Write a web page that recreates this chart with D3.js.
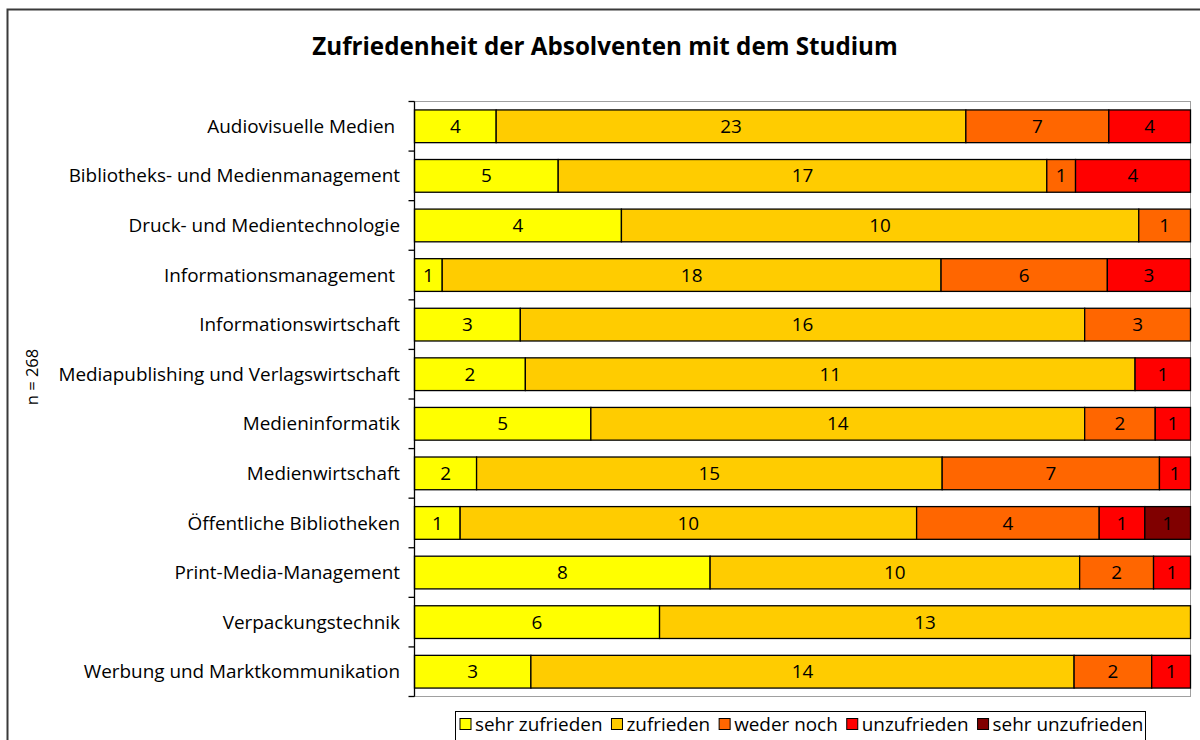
<!DOCTYPE html>
<html><head><meta charset="utf-8">
<script src="https://cdn.jsdelivr.net/npm/d3@7"></script>
<style>
html,body{margin:0;padding:0;background:#fff;}
svg{display:block;}
text{font-family:"Open Sans","Noto Sans",sans-serif;}
</style></head>
<body>
<svg id="chart" width="1200" height="740"></svg>
<script>
const title = "Zufriedenheit der Absolventen mit dem Studium";
const categories = [
  "Audiovisuelle Medien ",
  "Bibliotheks- und Medienmanagement",
  "Druck- und Medientechnologie",
  "Informationsmanagement ",
  "Informationswirtschaft",
  "Mediapublishing und Verlagswirtschaft",
  "Medieninformatik",
  "Medienwirtschaft",
  "Öffentliche Bibliotheken",
  "Print-Media-Management",
  "Verpackungstechnik",
  "Werbung und Marktkommunikation"
];
const seriesNames = ["sehr zufrieden","zufrieden","weder noch","unzufrieden","sehr unzufrieden"];
const seriesColors = ["#FFFF00","#FFCC00","#FF6600","#FF0000","#800000"];
const sehrZufrieden   = [4,5,4,1,3,2,5,2,1,8,6,3];
const zufrieden       = [23,17,10,18,16,11,14,15,10,10,13,14];
const wederNoch       = [7,1,1,6,3,0,2,7,4,2,0,2];
const unzufrieden     = [4,4,0,3,0,1,1,1,1,1,0,1];
const sehrUnzufrieden = [0,0,0,0,0,0,0,0,1,0,0,0];
const nLabel = "n = 268";

(function(){
const series = [sehrZufrieden, zufrieden, wederNoch, unzufrieden, sehrUnzufrieden];
const rows = categories.map((c,i)=>{
  const o = {cat:c};
  seriesNames.forEach((s,j)=>o[s]=series[j][i]);
  o.total = d3.sum(series, s=>s[i]);
  return o;
});
const normalized = rows.map(r=>{
  const o={cat:r.cat};
  seriesNames.forEach(s=>o[s]=r[s]/r.total);
  return o;
});
const stack = d3.stack().keys(seriesNames)(normalized);

const svg = d3.select("#chart");
const pL=414.5, pR=1190.5, pT=101.5, pB=696.5;
const FS = 18.9;

svg.append("rect").attr("x",7.5).attr("y",9.5).attr("width",1300).attr("height",800)
  .attr("fill","none").attr("stroke","#3a3a3a").attr("stroke-width",2);

svg.append("text").attr("x",605).attr("y",55).attr("text-anchor","middle")
  .attr("font-size",24.2).attr("font-weight","bold").text(title);

const x = d3.scaleLinear().domain([0,1]).range([pL,pR]);
const y = d3.scaleBand().domain(categories).range([pT,pB]).paddingInner(0.34).paddingOuter(0.17);

svg.append("rect").attr("x",pL).attr("y",pT).attr("width",pR-pL).attr("height",pB-pT)
  .attr("fill","none").attr("stroke","#a0a0a0").attr("stroke-width",1);

const layers = svg.append("g").selectAll("g").data(stack).join("g")
  .attr("fill",(d,i)=>seriesColors[i]);
layers.selectAll("rect").data(d=>d.filter(v=>v[1]-v[0]>0)).join("rect")
  .attr("x",v=>x(v[0])).attr("y",v=>y(v.data.cat))
  .attr("width",v=>x(v[1])-x(v[0])).attr("height",y.bandwidth())
  .attr("stroke","#000").attr("stroke-width",1.3);

stack.forEach((layer,j)=>{
  layer.forEach((v,i)=>{
    const val = series[j][i];
    if(val>0){
      svg.append("text").attr("x",(x(v[0])+x(v[1]))/2).attr("y",y(categories[i])+y.bandwidth()/2)
        .attr("dy","0.35em").attr("text-anchor","middle").attr("font-size",FS).attr("fill","#000").text(val);
    }
  });
});

const yAxisG = svg.append("g");
yAxisG.append("line").attr("x1",pL).attr("x2",pL).attr("y1",pT).attr("y2",pB).attr("stroke","#000").attr("stroke-width",1.3);
d3.range(categories.length+1).forEach(k=>{
  const yy = pT + k*(pB-pT)/categories.length;
  yAxisG.append("line").attr("x1",pL-6).attr("x2",pL).attr("y1",yy).attr("y2",yy).attr("stroke","#000").attr("stroke-width",1.3);
});
categories.forEach(c=>{
  yAxisG.append("text").attr("x",400).attr("y",y(c)+y.bandwidth()/2).attr("dy","0.35em")
    .attr("text-anchor","end").attr("font-size",FS).style("white-space","pre").text(c);
});

svg.append("text").attr("transform","translate(38,377) rotate(-90)").attr("text-anchor","middle")
  .attr("font-size",16.5).text(nLabel);

const lg = svg.append("g");
lg.append("rect").attr("x",455.5).attr("y",711.5).attr("width",690).attr("height",40)
  .attr("fill","#fff").attr("stroke","#000").attr("stroke-width",1);
let lx = 460;
seriesNames.forEach((s,i)=>{
  lg.append("rect").attr("x",lx).attr("y",718.5).attr("width",11).attr("height",11)
    .attr("fill",seriesColors[i]).attr("stroke","#000").attr("stroke-width",1);
  const t = lg.append("text").attr("x",lx+15).attr("y",724).attr("dy","0.35em").attr("font-size",FS).text(s);
  lx += 15 + t.node().getComputedTextLength() + 9;
});
})();
</script>
</body></html>
